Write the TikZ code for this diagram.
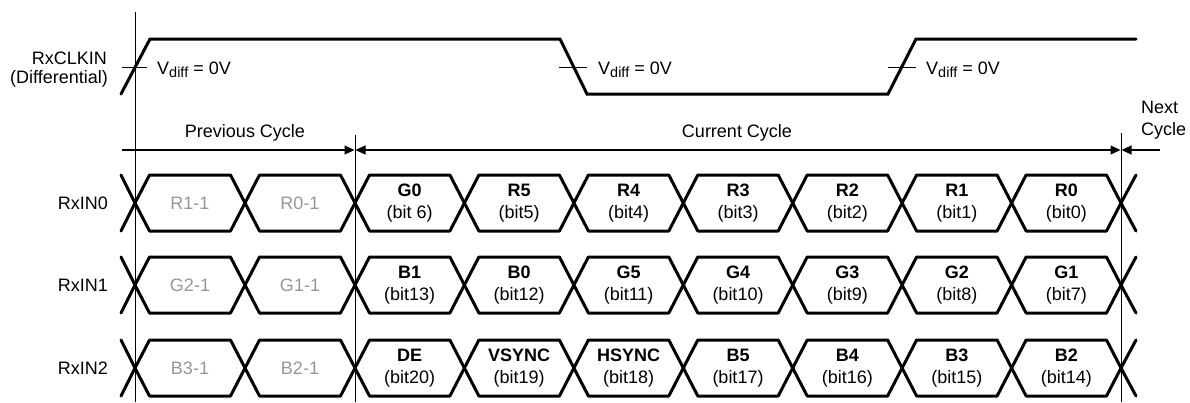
\documentclass[tikz,border=0pt]{standalone}
\usepackage{fontspec}
\setmainfont{Liberation Sans}
\usetikzlibrary{arrows.meta}
\definecolor{prevgray}{RGB}{150,150,150}
\newcommand{\vdiffsub}{V\raisebox{-3.5pt}{\fontsize{14.5}{15}\selectfont diff} = 0V}
\begin{document}
\begin{tikzpicture}[x=1pt,y=-1pt,
  sig/.style={line width=3pt,line join=round,line cap=round},
  clk/.style={line width=3pt,line join=miter,line cap=round},
  thin/.style={line width=0.9pt},
  dim/.style={line width=1.2pt},
  tip/.style={-{Triangle[length=10pt,width=9pt]}},
  lbl/.style={font=\fontsize{18}{20}\selectfont,inner sep=0pt},
  cell/.style={font=\fontsize{18}{22}\selectfont,inner sep=0pt,align=center},
  prev/.style={font=\fontsize{18}{20}\selectfont,inner sep=0pt,text=prevgray,anchor=base}]
\useasboundingbox (0,0) rectangle (1190,402);

% vertical reference lines
\coordinate (v0t) at (135,12);  \coordinate (v0b) at (135,402);
\coordinate (v1t) at (355,135); \coordinate (v1b) at (355,402);
\coordinate (v2t) at (1121,133); \coordinate (v2b) at (1121,402);
\draw[thin] (v0t) -- (v0b);
\draw[thin] (v1t) -- (v1b);
\draw[thin] (v2t) -- (v2b);

% clock
\draw[clk] (121,94) -- (150,39) -- (560,39) -- (587,94) -- (888,94) -- (916,39) -- (1136,39);
\draw[thin] (122,67) -- (147,67);
\draw[thin] (559,67) -- (587,67);
\draw[thin] (888,67) -- (916,67);
\node[lbl,anchor=base west] (vd1) at (157,74) {\vdiffsub};
\node[lbl,anchor=base west] (vd2) at (598,74) {\vdiffsub};
\node[lbl,anchor=base west] (vd3) at (926,74) {\vdiffsub};
\node[lbl,anchor=base east] (clkA) at (107,64) {RxCLKIN};
\node[lbl,anchor=base east] (clkB) at (108,83) {(Differential)};

% cycle dimension lines
\coordinate (pa) at (122,150);
\coordinate (pb) at (354.5,150);
\coordinate (ca) at (355.5,150);
\coordinate (cb) at (1120.5,150);
\coordinate (na) at (1121.5,150);
\coordinate (nb) at (1160,150);
\draw[dim,tip] (pa) -- (pb);
\draw[dim,{Triangle[length=10pt,width=9pt]}-{Triangle[length=10pt,width=9pt]}] (ca) -- (cb);
\draw[dim,tip] (nb) -- (na);
\node[lbl,anchor=base] (prevc) at (245,137) {Previous Cycle};
\node[lbl,anchor=base] (curc) at (737,137) {Current Cycle};
\node[lbl,anchor=base west] (nextA) at (1141,113) {Next};
\node[lbl,anchor=base west] (nextB) at (1141,135) {Cycle};

% data rows
\foreach \yc/\nm in {203/RxIN0,285/RxIN1,368/RxIN2}{
  \node[lbl,anchor=base east] (\nm) at (108,\yc+6.3) {\nm};
  \draw[sig] (121,\yc-28) -- (135,\yc) -- (121,\yc+28);
  \draw[sig] (1136,\yc-28) -- (1121,\yc) -- (1136,\yc+28);
  \foreach \a/\b in {135/245,245/355,355/464.4,464.4/573.9,573.9/683.3,683.3/792.7,792.7/902.1,902.1/1011.6,1011.6/1121}{
    \draw[sig] (\a,\yc) -- (\a+14.5,\yc-28) -- (\b-14.5,\yc-28) -- (\b,\yc) -- (\b-14.5,\yc+28) -- (\a+14.5,\yc+28) -- cycle;
  }
}

% previous-cycle labels
\node[prev] (p00) at (190,209) {R1-1};
\node[prev] (p01) at (300,209) {R0-1};
\node[prev] (p10) at (190,291) {G2-1};
\node[prev] (p11) at (300,291) {G1-1};
\node[prev] (p20) at (190,374) {B3-1};
\node[prev] (p21) at (300,374) {B2-1};

% current-cycle labels
\foreach \x/\t/\u [count=\i] in {409.7/G0/(bit 6),519.2/R5/(bit5),628.6/R4/(bit4),738/R3/(bit3),847.4/R2/(bit2),956.9/R1/(bit1),1066.3/R0/(bit0)}
  \node[cell] (a\i) at (\x,203.5) {\textbf{\t}\\\u};
\foreach \x/\t/\u [count=\i] in {409.7/B1/(bit13),519.2/B0/(bit12),628.6/G5/(bit11),738/G4/(bit10),847.4/G3/(bit9),956.9/G2/(bit8),1066.3/G1/(bit7)}
  \node[cell] (b\i) at (\x,285.5) {\textbf{\t}\\\u};
\foreach \x/\t/\u [count=\i] in {409.7/DE/(bit20),519.2/VSYNC/(bit19),628.6/HSYNC/(bit18),738/B5/(bit17),847.4/B4/(bit16),956.9/B3/(bit15),1066.3/B2/(bit14)}
  \node[cell] (c\i) at (\x,368.5) {\textbf{\t}\\\u};
\end{tikzpicture}
\end{document}
